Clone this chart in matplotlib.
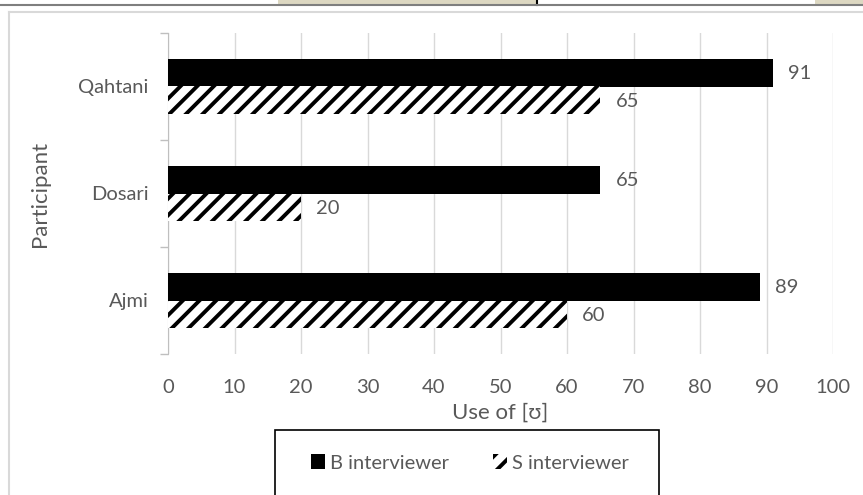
import matplotlib
matplotlib.use("Agg")
import matplotlib.pyplot as plt
from matplotlib.patches import Rectangle
from matplotlib.lines import Line2D

plt.rcParams['font.family'] = ['Lato', 'DejaVu Sans']
plt.rcParams['hatch.linewidth'] = 2.8
plt.rcParams['hatch.color'] = 'black'

participants = ['Ajmi', 'Dosari', 'Qahtani']
b_interviewer = [89, 65, 91]
s_interviewer = [60, 20, 65]
series_names = ['B interviewer', 'S interviewer']
x_ticks = [0, 10, 20, 30, 40, 50, 60, 70, 80, 90, 100]

W, H = 863, 495
fig = plt.figure(figsize=(W / 100, H / 100), dpi=100)
TXT = '#595959'
GRID = '#d9d9d9'
FS = 14.5

# decorative page elements
fig.add_artist(Rectangle((278 / W, 1 - 5 / H), (537 - 278) / W, 5 / H,
                         transform=fig.transFigure, facecolor='#ddd8c2', edgecolor='none'))
fig.add_artist(Rectangle((815 / W, 1 - 5 / H), (863 - 815) / W, 5 / H,
                         transform=fig.transFigure, facecolor='#ddd8c2', edgecolor='none'))
fig.add_artist(Line2D([537 / W, 537 / W], [1, 1 - 5 / H], transform=fig.transFigure,
                      color='black', lw=1.5))
fig.add_artist(Line2D([0, 1], [1 - 5 / H, 1 - 5 / H], transform=fig.transFigure,
                      color='#7f7f7f', lw=1.5))
fig.add_artist(Line2D([9 / W, 9 / W], [0, 1 - 12 / H], transform=fig.transFigure,
                      color='#d9d9d9', lw=1.5))
fig.add_artist(Line2D([9 / W, 1], [1 - 12 / H, 1 - 12 / H], transform=fig.transFigure,
                      color='#d9d9d9', lw=1.5))

ax = fig.add_axes([168 / W, (H - 354) / H, (833 - 168) / W, (354 - 33) / H])
y = list(range(len(participants)))
h = 0.26
bars_b = ax.barh([v + h / 2 for v in y], b_interviewer, height=h, color='black',
                 label=series_names[0], zorder=3)
bars_s = ax.barh([v - h / 2 for v in y], s_interviewer, height=h, color='white',
                 edgecolor='black', linewidth=0, hatch='//', label=series_names[1], zorder=3)

for bars, vals in ((bars_b, b_interviewer), (bars_s, s_interviewer)):
    for bar, v in zip(bars, vals):
        ax.annotate(str(v), (v, bar.get_y() + bar.get_height() / 2), xytext=(11, -1),
                    textcoords='offset points', va='center', ha='left', color=TXT, fontsize=FS)

ax.set_xlim(0, 100)
ax.set_ylim(-0.5, len(participants) - 0.5)
ax.set_xticks(x_ticks)
ax.set_xticklabels([str(t) for t in x_ticks], color=TXT, fontsize=FS)
ax.tick_params(axis='x', length=0, pad=18)
ax.xaxis.grid(True, color=GRID, lw=1, zorder=0)
ax.set_yticks([-0.5, 0.5, 1.5, 2.5])
ax.set_yticklabels([])
ax.set_yticks(y, minor=True)
ax.set_yticklabels(participants, minor=True, color=TXT, fontsize=FS)
ax.tick_params(axis='y', which='major', length=6, color='#bfbfbf', width=1)
ax.tick_params(axis='y', which='minor', length=0, pad=14)
for s in ['top', 'right', 'bottom']:
    ax.spines[s].set_visible(False)
ax.spines['left'].set_color('#bfbfbf')
ax.set_xlabel('Use of [ʊ]', color=TXT, fontsize=16, labelpad=5)
ax.set_ylabel('Participant', color=TXT, fontsize=16, labelpad=20)

# legend box
fig.add_artist(Rectangle((275 / W, -0.01), (659 - 275) / W, (H - 430) / H + 0.01,
                         transform=fig.transFigure, facecolor='white', edgecolor='black', lw=1.2))
fig.legend(handles=[bars_b, bars_s], labels=series_names, ncol=2, frameon=False,
           loc='center', bbox_to_anchor=(470 / W, 1 - 463 / H), fontsize=FS,
           labelcolor=TXT, handlelength=0.7, handleheight=0.7, handletextpad=0.25,
           columnspacing=2.2)

fig.savefig('out.png', dpi=100)
